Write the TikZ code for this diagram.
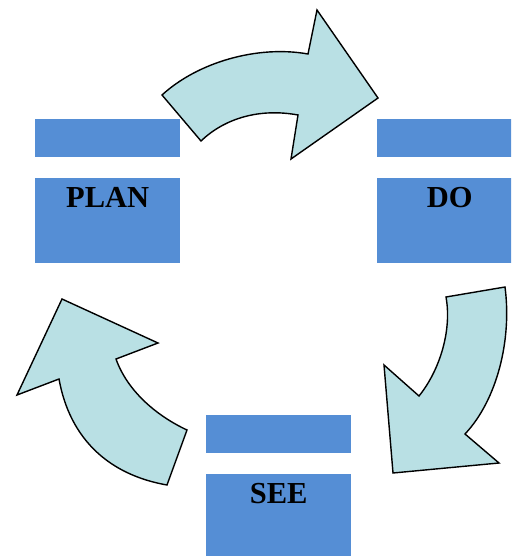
\documentclass[tikz,border=0pt]{standalone}
\usepackage{fontspec}
\setmainfont{Liberation Serif}
\usepackage{tikz}
\definecolor{boxblue}{RGB}{85,142,213}
\definecolor{arrowfill}{RGB}{185,224,228}
\tikzset{
  bar/.style={fill=boxblue, inner sep=0pt, minimum width=145pt, minimum height=38pt, anchor=north west},
  box/.style={fill=boxblue, inner sep=0pt, minimum width=145pt, minimum height=85pt, anchor=north west},
  boxlabel/.style={anchor=base, inner sep=0pt, font=\fontsize{30.5}{32}\selectfont\bfseries},
  cyclearrow/.style={fill=arrowfill, draw=black, line width=1.4pt, line join=miter}
}
\begin{document}
\begin{tikzpicture}[x=1pt, y=-1pt]
\clip (0,0) rectangle (511,556);
\node [bar] (planbar) at (35,119) {};
\node [box] (plan) at (35,178) {};
\node [boxlabel] (plantext) at ([yshift=-29pt]plan.north) {PLAN};
\node [bar] (dobar) at (377,119) {};
\node [box] (do) at (377,178) {};
\node [boxlabel] (dotext) at ([yshift=-29pt]do.north) {DO};
\node [bar] (seebar) at (206,415) {};
\node [box] (see) at (206,474) {};
\node [boxlabel] (seetext) at ([yshift=-29pt]see.north) {SEE};
\draw [cyclearrow] (162,95) .. controls (198,62) and (258,45) .. (308,54) -- (317,10) -- (378,98)
  -- (291,159) -- (298,115) .. controls (260,108) and (225,118) .. (201,141) -- cycle;
\draw [cyclearrow] (446,297) -- (505,287) .. controls (512,340) and (497,400) .. (465,434)
  -- (499,463) -- (393,473) -- (384,365) -- (419,396) .. controls (440,370) and (452,330) .. (446,297) -- cycle;
\draw [cyclearrow] (167,485) -- (187,430) .. controls (155,415) and (127,390) .. (116,359)
  -- (158,343) -- (62,299) -- (17,395) -- (59,379) .. controls (70,440) and (110,475) .. (167,485) -- cycle;
\end{tikzpicture}
\end{document}
